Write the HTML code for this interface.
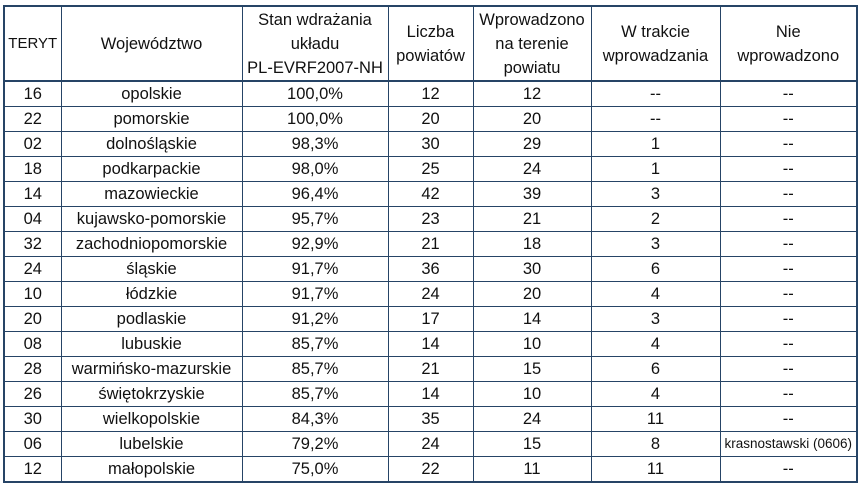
<!DOCTYPE html>
<html><head><meta charset="utf-8"><style>
body{margin:0;width:859px;height:486px;background:#fff;overflow:hidden;font-family:"Liberation Sans",sans-serif;color:#111;}
table{position:absolute;left:3px;top:5px;width:853px;height:477px;border-collapse:collapse;border:2px solid #264466;table-layout:fixed;}
td,th{border:1px solid #264466;text-align:center;font-weight:normal;font-size:16.5px;padding:0;line-height:24px;white-space:nowrap;overflow:hidden;}
th{height:73px;}
td{height:24px;line-height:20px;}
th{border-bottom:2px solid #264466;}
.s{font-size:13.5px;}
.t{font-size:15px;}
</style></head><body>
<table>
<colgroup><col style="width:57px"><col style="width:181px"><col style="width:146px"><col style="width:85px"><col style="width:118px"><col style="width:129px"><col style="width:137px"></colgroup>
<tr><th class="t">TERYT</th><th>Województwo</th><th>Stan wdrażania<br>układu<br>PL-EVRF2007-NH</th><th>Liczba<br>powiatów</th><th>Wprowadzono<br>na terenie<br>powiatu</th><th>W trakcie<br>wprowadzania</th><th>Nie<br>wprowadzono</th></tr>
<tr><td>16</td><td>opolskie</td><td>100,0%</td><td>12</td><td>12</td><td>--</td><td>--</td></tr>
<tr><td>22</td><td>pomorskie</td><td>100,0%</td><td>20</td><td>20</td><td>--</td><td>--</td></tr>
<tr><td>02</td><td>dolnośląskie</td><td>98,3%</td><td>30</td><td>29</td><td>1</td><td>--</td></tr>
<tr><td>18</td><td>podkarpackie</td><td>98,0%</td><td>25</td><td>24</td><td>1</td><td>--</td></tr>
<tr><td>14</td><td>mazowieckie</td><td>96,4%</td><td>42</td><td>39</td><td>3</td><td>--</td></tr>
<tr><td>04</td><td>kujawsko-pomorskie</td><td>95,7%</td><td>23</td><td>21</td><td>2</td><td>--</td></tr>
<tr><td>32</td><td>zachodniopomorskie</td><td>92,9%</td><td>21</td><td>18</td><td>3</td><td>--</td></tr>
<tr><td>24</td><td>śląskie</td><td>91,7%</td><td>36</td><td>30</td><td>6</td><td>--</td></tr>
<tr><td>10</td><td>łódzkie</td><td>91,7%</td><td>24</td><td>20</td><td>4</td><td>--</td></tr>
<tr><td>20</td><td>podlaskie</td><td>91,2%</td><td>17</td><td>14</td><td>3</td><td>--</td></tr>
<tr><td>08</td><td>lubuskie</td><td>85,7%</td><td>14</td><td>10</td><td>4</td><td>--</td></tr>
<tr><td>28</td><td>warmińsko-mazurskie</td><td>85,7%</td><td>21</td><td>15</td><td>6</td><td>--</td></tr>
<tr><td>26</td><td>świętokrzyskie</td><td>85,7%</td><td>14</td><td>10</td><td>4</td><td>--</td></tr>
<tr><td>30</td><td>wielkopolskie</td><td>84,3%</td><td>35</td><td>24</td><td>11</td><td>--</td></tr>
<tr><td>06</td><td>lubelskie</td><td>79,2%</td><td>24</td><td>15</td><td>8</td><td class="s">krasnostawski (0606)</td></tr>
<tr><td>12</td><td>małopolskie</td><td>75,0%</td><td>22</td><td>11</td><td>11</td><td>--</td></tr>
</table>
</body></html>
